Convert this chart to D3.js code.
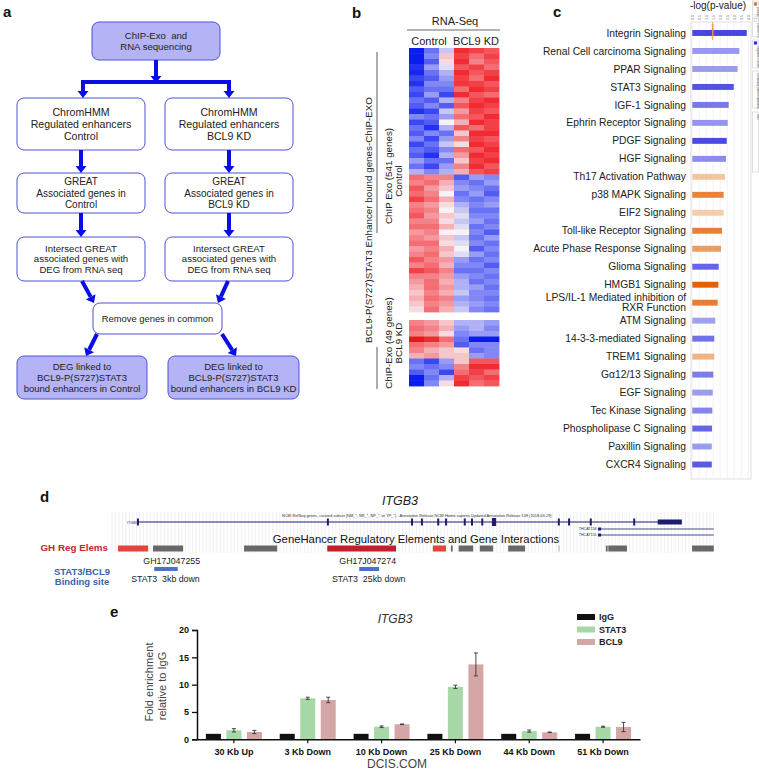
<!DOCTYPE html>
<html><head><meta charset="utf-8">
<script src="https://cdn.jsdelivr.net/npm/d3@7"></script>
<style>body{margin:0;background:#fff}svg{display:block;font-family:"Liberation Sans",Arial,sans-serif}</style>
</head><body><svg id="c" width="759" height="770"></svg>
<script>
// ================= DATA =================
// panel a – flowchart texts
const flowTop = ["ChIP-Exo  and", "RNA sequencing"];
const flowLeft = [["ChromHMM","Regulated enhancers","Control"],["GREAT","Associated genes in","Control"],["Intersect GREAT","associated genes with","DEG from RNA seq"]];
const flowRight = [["ChromHMM","Regulated enhancers","BCL9 KD"],["GREAT","Associated genes in","BCL9 KD"],["Intersect GREAT","associated genes with","DEG from RNA seq"]];
const flowMiddle = ["Remove genes in common"];
const flowBottom = [["DEG linked to","BCL9-P(S727)STAT3","bound enhancers in Control"],["DEG linked to","BCL9-P(S727)STAT3","bound enhancers in BCL9 KD"]];

// panel b – heatmap (row-scaled expression, -1 blue .. +1 red)
const heatSamples = ["Control 1","Control 2","Control 3","BCL9 KD 1","BCL9 KD 2","BCL9 KD 3"];
const heatControlRows = [
[-1.0,-0.6,-0.2,0.9,0.8,0.7],[-1.0,-0.5,0.2,0.8,0.6,0.8],[-1.0,-0.7,0.1,0.9,0.5,0.7],[-0.9,-0.4,-0.1,0.7,0.8,0.6],
[-0.95,-0.6,-0.3,0.9,0.7,0.8],[-0.8,-0.7,-0.4,0.8,0.6,0.9],[-0.9,-0.5,-0.5,0.85,0.8,0.7],[-0.7,-0.6,-0.6,0.6,0.9,0.8],
[-0.8,-0.4,-0.8,0.9,0.7,0.6],[-0.6,-0.7,-0.3,0.5,0.8,0.9],[-0.7,-0.5,-0.7,0.7,0.9,0.8],[-0.9,-0.8,-0.2,0.4,0.8,0.7],
[-0.5,-0.6,-0.4,0.6,0.7,0.9],[-0.8,-0.7,0.0,0.3,0.9,0.8],[-0.6,-0.9,-0.3,0.7,0.6,0.8],[-0.7,-0.5,-0.6,0.2,0.9,0.9],
[-0.5,-0.8,-0.4,0.5,0.8,0.7],[-0.8,-0.6,-0.2,0.1,0.9,0.8],[-0.6,-0.7,-0.5,0.6,0.7,0.9],[-0.7,-0.9,-0.3,0.4,0.9,0.8],
[-0.4,-0.6,-0.6,0.2,0.8,0.9],[-0.6,-0.8,-0.4,0.5,0.9,0.7],[-0.3,-0.5,-0.3,0.3,0.7,0.8],
[0.6,0.5,0.5,-0.7,-0.4,-0.5],[0.5,0.6,0.3,-0.5,-0.6,-0.4],[0.7,0.4,0.2,-0.4,-0.5,-0.6],[0.6,0.5,0.0,-0.6,-0.4,-0.7],
[0.8,0.6,0.3,-0.5,-0.6,-0.5],[0.5,0.4,0.1,-0.3,-0.5,-0.4],[0.6,0.5,0.0,-0.2,-0.6,-0.6],[0.7,0.4,0.2,-0.1,-0.5,-0.5],
[0.5,0.5,0.1,-0.2,-0.4,-0.6],[0.6,0.6,0.3,-0.1,-0.6,-0.5],[0.4,0.5,0.0,0.0,-0.5,-0.7],[0.5,0.4,0.2,-0.2,-0.6,-0.4],
[0.6,0.6,0.1,-0.1,-0.5,-0.6],[0.4,0.5,0.3,0.0,-0.7,-0.5],[0.5,0.6,0.2,-0.1,-0.4,-0.6],[0.7,0.5,0.4,-0.4,-0.6,-0.5],
[0.5,0.6,0.3,-0.5,-0.5,-0.7],[0.8,0.7,0.5,-0.6,-0.6,-0.5],[0.5,0.5,0.4,-0.4,-0.5,-0.6],[0.4,0.6,0.3,-0.3,-0.6,-0.5],
[0.3,0.6,0.4,-0.3,-0.4,-0.6],[0.2,0.5,0.3,-0.2,-0.5,-0.5],[0.3,0.6,0.5,-0.4,-0.5,-0.6],[0.2,0.5,0.4,-0.3,-0.4,-0.5],
[0.1,0.6,0.3,-0.2,-0.5,-0.6]];
const heatKDRows = [
[0.5,0.4,0.2,-0.3,-0.3,-0.4],[0.6,0.5,0.3,-0.4,-0.3,-0.5],[0.5,0.4,0.1,-0.5,-0.4,-0.4],[1.0,0.9,0.6,-0.6,-1.0,-1.0],
[0.6,0.5,0.4,-0.7,-0.5,-0.5],[0.5,0.3,0.2,0.1,-0.6,-0.5],[0.3,0.4,0.2,0.2,-0.4,-0.5],[-0.6,-0.8,-0.4,0.2,0.7,0.7],
[-0.5,-0.6,-0.5,0.5,0.9,0.9],[-0.7,-0.5,-0.8,0.6,0.8,0.6],[-1.0,-0.6,-0.3,0.8,0.7,0.8],[-1.0,-0.5,0.1,0.9,0.6,0.7]];

// panel c – IPA canonical pathways
const pathways = ["Integrin Signaling","Renal Cell carcinoma Signaling","PPAR Signaling","STAT3 Signaling","IGF-1 Signaling",
"Ephrin Receptor Signaling","PDGF Signaling","HGF Signaling","Th17 Activation Pathway","p38 MAPK Signaling","EIF2 Signaling",
"Toll-like Receptor Signaling","Acute Phase Response Signaling","Glioma Signaling","HMGB1 Signaling",
"LPS/IL-1 Mediated inhibition of|RXR Function","ATM Signaling","14-3-3-mediated Signaling","TREM1 Signaling",
"G\u03b112/13 Signaling","EGF Signaling","Tec Kinase Signaling","Phospholipase C Signaling","Paxillin Signaling","CXCR4 Signaling"];
const pathwayLogP = [3.89,3.36,3.24,2.96,2.60,2.53,2.46,2.41,2.34,2.24,2.24,2.12,2.05,1.89,1.86,1.81,1.64,1.57,1.57,1.50,1.46,1.43,1.41,1.39,1.39];
const pathwayZ = [-3.3,-1.2,-1.1,-3.0,-2.0,-1.3,-3.2,-1.5,0.7,2.5,0.5,2.6,1.8,-2.5,3.4,2.7,-1.0,-2.2,1.2,-1.9,-1.1,-1.7,-2.5,-1.1,-2.8];
const logPTicks = [0,0.5,1,1.5,2,2.5,3,3.5,4];
const thresholdLogP = 1.45;
const zLegend = ["positive z-score","z-score = 0","negative z-score","no activity pattern available","ratio"];

// panel d – genome browser (positions in kb from window start)
const geneExonsKb = [4.3,35.8,49.75,51.4,54.1,55.4,58.5,59.7,61.4,74.1,75.8,79.4,86.6];
const geneBigExonKb = [63.0,63.7];
const geneUtrKb = [90.5,94.5];
const geneSpanKb = [4.3,94.5];
const neighbourGeneKb = [80.6,99.8];
const neighbourGenes = ["THCAT158","THCAT155"];
const ghStartKb = [1.0,6.8,21.9,35.7,53.2,56.2,57.5,61.0,65.7,74.0,81.9,82.3,96.2];
const ghEndKb   = [6.0,11.8,27.4,47.1,55.4,56.5,59.9,63.2,68.5,74.3,82.2,85.4,99.8];
const ghType    = ["enh","other","other","strong","enh","other","other","other","other","faint","other","other","other"];
const ghNames = ["GH17J047255","GH17J047274"];
const ghNameKb = [9.9,42.4];
const bindStartKb = [7.0,41.0];
const bindEndKb = [10.9,44.3];
const bindNames = ["STAT3  3kb down","STAT3  25kb down"];

// panel e – ChIP-qPCR
const regions = ["30 Kb Up","3 Kb Down","10 Kb Down","25 Kb Down","44 Kb Down","51 Kb Down"];
const antibodies = ["IgG","STAT3","BCL9"];
const iggVals = [1,1,1,1,1,1];
const iggErr = [0,0,0,0,0,0];
const stat3Vals = [1.65,7.5,2.3,9.6,1.5,2.3];
const stat3Err = [0.3,0.2,0.15,0.3,0.2,0.1];
const bcl9Vals = [1.33,7.2,2.75,13.7,1.28,2.25];
const bcl9Err = [0.3,0.5,0.05,2.1,0.05,0.85];
const yTicksE = [0,5,10,15,20];

// ================= DRAW =================
const svg = d3.select("#c");
const panelLabel = (t,x,y)=>svg.append("text").attr("x",x).attr("y",y).attr("font-size",15).attr("font-weight","bold").attr("fill","#111").text(t);

// ---------- panel a ----------
panelLabel("a",3,17);
const fa = svg.append("g");
const flowBlue = "#0c0ce8", lav = "#b3b3f5";
function box(x,y,w,h,lines,fill,fs){
  fa.append("rect").attr("x",x).attr("y",y).attr("width",w).attr("height",h).attr("rx",7)
    .attr("fill",fill).attr("stroke","#5050d8").attr("stroke-width",1);
  const lh = fs*1.12, n = lines.length;
  lines.forEach((t,i)=>fa.append("text").attr("x",x+w/2).attr("y",y+h/2+(i-(n-1)/2)*lh+fs*0.36)
    .attr("text-anchor","middle").attr("font-size",fs).attr("fill","#222").style("white-space","pre").text(t));
}
function arrow(x1,y1,x2,y2){
  const a=Math.atan2(y2-y1,x2-x1), hl=7, hw=5.5;
  const bx=x2-hl*Math.cos(a), by=y2-hl*Math.sin(a), px=-Math.sin(a), py=Math.cos(a);
  fa.append("line").attr("x1",x1).attr("y1",y1).attr("x2",bx).attr("y2",by).attr("stroke",flowBlue).attr("stroke-width",4);
  fa.append("path").attr("d",`M${x2},${y2}L${bx+px*hw},${by+py*hw}L${bx-px*hw},${by-py*hw}Z`).attr("fill",flowBlue);
}
box(92,22,128,38,flowTop,lav,9.6);
const tierY=[98,173,237], tierH=[52,40,44], tierF=[10.6,10,9.6];
flowLeft.forEach((l,i)=>box(17,tierY[i],128,tierH[i],l,"#fff",tierF[i]));
flowRight.forEach((l,i)=>box(165,tierY[i],128,tierH[i],l,"#fff",tierF[i]));
box(93,303,129,31,flowMiddle,"#fff",9.4);
box(17,356,130,43,flowBottom[0],lav,9.5);
box(168,356,131,43,flowBottom[1],lav,9.5);
arrow(156,60,156,83);
fa.append("line").attr("x1",81).attr("x2",231).attr("y1",82).attr("y2",82).attr("stroke",flowBlue).attr("stroke-width",4);
arrow(83,80,83,98); arrow(229,80,229,98);
arrow(81,150,81,173); arrow(229,150,229,173);
arrow(81,213,81,237); arrow(229,213,229,237);
arrow(82,281,94,303); arrow(228,281,218,303);
arrow(97,334,86,356); arrow(222,334,236,356);

// ---------- panel b ----------
panelLabel("b",352,18);
const gb = svg.append("g");
gb.append("text").attr("x",455).attr("y",25).attr("text-anchor","middle").attr("font-size",11).attr("fill","#222").text("RNA-Seq");
gb.append("line").attr("x1",407).attr("x2",500).attr("y1",30).attr("y2",30).attr("stroke","#444").attr("stroke-width",0.8);
gb.append("text").attr("x",429).attr("y",45).attr("text-anchor","middle").attr("font-size",11).attr("fill","#222").text("Control");
gb.append("text").attr("x",476).attr("y",45).attr("text-anchor","middle").attr("font-size",11).attr("fill","#222").text("BCL9 KD");
const hx = d3.scaleBand().domain(heatSamples).range([409,499]);
const heatColor = d3.scaleLinear().domain([-1,0,1]).range(["#0b1cf2","#f6f2f6","#f2141c"]);
function drawHeat(rows,y0,y1){
  const ys = d3.scaleBand().domain(d3.range(rows.length)).range([y0,y1]);
  rows.forEach((r,i)=>r.forEach((v,j)=>gb.append("rect").attr("x",hx(heatSamples[j])).attr("y",ys(i))
    .attr("width",hx.bandwidth()+0.4).attr("height",ys.bandwidth()+0.4).attr("fill",heatColor(v))));
}
drawHeat(heatControlRows,48,312);
drawHeat(heatKDRows,320,386);
const rotText=(x,y,t,fs)=>gb.append("text").attr("transform",`translate(${x},${y}) rotate(-90)`).attr("text-anchor","middle")
  .attr("font-size",fs).attr("fill","#222").text(t);
rotText(372,220,"BCL9-P(S727)STAT3 Enhancer bound genes-ChIP-EXO",9.8);
rotText(392,176,"ChIP Exo (541 genes)",9.8);
rotText(402,181,"Control",9.8);
rotText(392,343,"ChIP-Exo (49 genes)",9.8);
rotText(402,343,"BCL9 KD",9.8);
gb.append("line").attr("x1",377).attr("x2",377).attr("y1",52).attr("y2",233).attr("stroke","#333").attr("stroke-width",0.8);
gb.append("line").attr("x1",377).attr("x2",377).attr("y1",347).attr("y2",389).attr("stroke","#333").attr("stroke-width",0.8);

// ---------- panel c ----------
panelLabel("c",553,17);
const gc = svg.append("g");
const cx = d3.scaleLinear().domain([0,4]).range([692.3,748.3]);
const cy = d3.scaleBand().domain(pathways).range([24,473.5]).paddingInner(0.67).paddingOuter(0.335);
const zColor = z => z<0 ? d3.scaleLinear().domain([-3.4,-1]).range(["#4242e0","#a0a0f0"]).clamp(true)(z)
                        : d3.scaleLinear().domain([0.5,3.4]).range(["#f5cda9","#e2620c"]).clamp(true)(z);
gc.append("rect").attr("x",691).attr("y",22).attr("width",60).attr("height",457).attr("fill","none").attr("stroke","#d8d8d8").attr("stroke-width",0.8);
logPTicks.forEach(t=>{
  gc.append("line").attr("x1",cx(t)).attr("x2",cx(t)).attr("y1",22).attr("y2",479).attr("stroke","#efefef").attr("stroke-width",0.7);
  gc.append("text").attr("transform",`translate(${cx(t)+1.2},20) rotate(-90)`).attr("font-size",3.6).attr("fill","#666").text(t.toFixed(1));
});
gc.append("text").attr("x",718).attr("y",9).attr("text-anchor","middle").attr("font-size",10).attr("fill","#222").text("-log(p-value)");
pathways.forEach((p,i)=>{
  gc.append("rect").attr("x",cx(0)).attr("y",cy(p)).attr("width",cx(pathwayLogP[i])-cx(0)).attr("height",cy.bandwidth()).attr("fill",zColor(pathwayZ[i]));
  const parts = p.split("|"), yc = cy(p)+cy.bandwidth()/2;
  parts.forEach((s,k)=>gc.append("text").attr("x",686).attr("y",yc+(k-(parts.length-1)/2)*9.6+3.6)
    .attr("text-anchor","end").attr("font-size",10.3).attr("fill","#222").text(s));
});
gc.append("line").attr("x1",cx(thresholdLogP)).attr("x2",cx(thresholdLogP)).attr("y1",22).attr("y2",40).attr("stroke","#f0a860").attr("stroke-width",1);
gc.append("text").attr("transform",`translate(${cx(thresholdLogP)+1.3},38) rotate(-90)`).attr("font-size",3).attr("fill","#e08030").text("Threshold");
const legY=[[1,15],[17,37],[40,68],[71,108],[112,172]], legSq=["#e8701e","#fff","#2020d8",null,null];
zLegend.forEach((t,i)=>{
  gc.append("rect").attr("x",752.5).attr("y",legY[i][0]).attr("width",6).attr("height",legY[i][1]-legY[i][0]).attr("fill","#fff").attr("stroke","#ccc").attr("stroke-width",0.6);
  if(legSq[i]) gc.append("rect").attr("x",754).attr("y",legY[i][0]+1.5).attr("width",3).attr("height",3).attr("fill",legSq[i]).attr("stroke","#888").attr("stroke-width",0.3);
  gc.append("text").attr("transform",`translate(756.8,${legY[i][0]+(legSq[i]?6:2)}) rotate(90)`).attr("font-size",3).attr("fill","#555").text(t);
});

// ---------- panel d ----------
panelLabel("d",40,502);
const gd = svg.append("g");
const gx = d3.scaleLinear().domain([0,100]).range([112,715]);
d3.range(0,100.01,0.58).forEach(k=>gd.append("line").attr("x1",gx(k)).attr("x2",gx(k)).attr("y1",512).attr("y2",553).attr("stroke","#ececec").attr("stroke-width",0.8));
gd.append("text").attr("x",400).attr("y",505).attr("text-anchor","middle").attr("font-size",12.5).attr("font-style","italic").attr("fill","#222").text("ITGB3");
gd.append("text").attr("x",282).attr("y",517).attr("font-size",3.9).attr("fill","#333")
  .text("NCBI RefSeq genes, curated subset (NM_*, NR_*, NP_*, or YP_*) - Annotation Release NCBI Homo sapiens Updated Annotation Release 109 (2018-03-29)");
const navy = "#1d1d70";
gd.append("text").attr("x",127).attr("y",523.5).attr("font-size",3.8).attr("fill",navy).text("ITGB3");
gd.append("line").attr("x1",gx(geneSpanKb[0])).attr("x2",gx(geneSpanKb[1])).attr("y1",522).attr("y2",522).attr("stroke",navy).attr("stroke-width",1);
geneExonsKb.forEach(k=>gd.append("rect").attr("x",gx(k)-1).attr("y",518.5).attr("width",2).attr("height",7).attr("fill",navy));
gd.append("rect").attr("x",gx(geneBigExonKb[0])).attr("y",518).attr("width",gx(geneBigExonKb[1])-gx(geneBigExonKb[0])).attr("height",8).attr("fill",navy);
gd.append("rect").attr("x",gx(geneUtrKb[0])).attr("y",519.5).attr("width",gx(geneUtrKb[1])-gx(geneUtrKb[0])).attr("height",5).attr("fill",navy);
neighbourGenes.forEach((n,i)=>{
  const y = 529+i*6;
  gd.append("line").attr("x1",gx(neighbourGeneKb[0])).attr("x2",gx(neighbourGeneKb[1])).attr("y1",y).attr("y2",y).attr("stroke",navy).attr("stroke-width",0.8);
  gd.append("rect").attr("x",gx(neighbourGeneKb[0])).attr("y",y-1.5).attr("width",3).attr("height",3).attr("fill",navy);
  gd.append("text").attr("x",gx(neighbourGeneKb[0])-1.5).attr("y",y+1.3).attr("text-anchor","end").attr("font-size",3.6).attr("fill",navy).text(n);
});
gd.append("text").attr("x",416).attr("y",543).attr("text-anchor","middle").attr("font-size",11.3).attr("fill","#111").text("GeneHancer Regulatory Elements and Gene Interactions");
const ghCol = {enh:"#e8423c",strong:"#c41e2c",other:"#686868",faint:"#d0d0d0"};
ghStartKb.forEach((s,i)=>gd.append("rect").attr("x",gx(s)).attr("y",545.5).attr("width",Math.max(1,gx(ghEndKb[i])-gx(s))).attr("height",6).attr("fill",ghCol[ghType[i]]));
gd.append("text").attr("x",108).attr("y",551).attr("text-anchor","end").attr("font-size",9.8).attr("font-weight","bold").attr("fill","#c3282e").text("GH Reg Elems");
ghNames.forEach((n,i)=>gd.append("text").attr("x",gx(ghNameKb[i])).attr("y",564).attr("text-anchor","middle").attr("font-size",8.8).attr("fill","#222").text(n));
bindStartKb.forEach((s,i)=>{
  gd.append("rect").attr("x",gx(s)).attr("y",567).attr("width",gx(bindEndKb[i])-gx(s)).attr("height",4).attr("fill","#4a72c2");
  gd.append("text").attr("x",(gx(s)+gx(bindEndKb[i]))/2-0.5).attr("y",582).attr("text-anchor","middle").attr("font-size",8.8).attr("fill","#222").style("white-space","pre").text(bindNames[i]);
});
gd.append("text").attr("x",82).attr("y",575).attr("text-anchor","middle").attr("font-size",9.5).attr("font-weight","bold").attr("fill","#3b62ad").text("STAT3/BCL9");
gd.append("text").attr("x",82).attr("y",585).attr("text-anchor","middle").attr("font-size",9.5).attr("font-weight","bold").attr("fill","#3b62ad").text("Binding site");

// ---------- panel e ----------
panelLabel("e",110,617);
const ge = svg.append("g");
const ex = d3.scaleBand().domain(regions).range([197,640]);
const ein = d3.scaleBand().domain(antibodies).range([8.9,64.9]).paddingInner(0.268);
const ey = d3.scaleLinear().domain([0,20]).range([739.3,630]);
const eCol = {IgG:"#111111",STAT3:"#a9d8a8",BCL9:"#d4a6a6"};
const vals = {IgG:iggVals,STAT3:stat3Vals,BCL9:bcl9Vals}, errs = {IgG:iggErr,STAT3:stat3Err,BCL9:bcl9Err};
ge.append("text").attr("x",395).attr("y",623).attr("text-anchor","middle").attr("font-size",12).attr("font-style","italic").attr("fill","#333").text("ITGB3");
regions.forEach((r,i)=>antibodies.forEach(a=>{
  const x = ex(r)+ein(a), v = vals[a][i], e = errs[a][i];
  ge.append("rect").attr("x",x).attr("y",ey(v)).attr("width",ein.bandwidth()).attr("height",ey(0)-ey(v)).attr("fill",eCol[a]);
  if(e>0){
    const xc = x+ein.bandwidth()/2;
    ge.append("line").attr("x1",xc).attr("x2",xc).attr("y1",ey(v+e)).attr("y2",ey(v-e)).attr("stroke","#333").attr("stroke-width",0.9);
    [v+e,v-e].forEach(q=>ge.append("line").attr("x1",xc-2).attr("x2",xc+2).attr("y1",ey(q)).attr("y2",ey(q)).attr("stroke","#333").attr("stroke-width",0.9));
  }
}));
const yAx = ge.append("g").attr("transform","translate(197,0)").call(d3.axisLeft(ey).tickValues(yTicksE).tickSize(5).tickPadding(3));
yAx.select(".domain").attr("stroke","#111").attr("stroke-width",1.5);
yAx.selectAll(".tick line").attr("stroke","#111").attr("stroke-width",1.3);
yAx.selectAll("text").attr("font-size",9).attr("font-weight","bold").attr("font-family","'Liberation Sans',Arial,sans-serif").attr("fill","#111");
const xAx = ge.append("g").attr("transform","translate(0,739.3)").call(d3.axisBottom(ex).tickSize(4).tickSizeOuter(0).tickPadding(5));
xAx.select(".domain").attr("stroke","#111").attr("stroke-width",1.5);
xAx.selectAll(".tick line").attr("stroke","#111").attr("stroke-width",1.2);
xAx.selectAll("text").attr("font-size",9).attr("font-weight","bold").attr("font-family","'Liberation Sans',Arial,sans-serif").attr("fill","#111");
ge.append("text").attr("transform","translate(153,682) rotate(-90)").attr("text-anchor","middle").attr("font-size",11).attr("fill","#444").text("Fold enrichment");
ge.append("text").attr("transform","translate(166,686) rotate(-90)").attr("text-anchor","middle").attr("font-size",11).attr("fill","#444").text("relative to IgG");
antibodies.forEach((a,i)=>{
  ge.append("rect").attr("x",577).attr("y",614+i*12.5).attr("width",18).attr("height",6).attr("fill",eCol[a]);
  ge.append("text").attr("x",599).attr("y",620+i*12.5).attr("font-size",9).attr("font-weight","bold").attr("fill","#222").text(a);
});
ge.append("text").attr("x",397).attr("y",768).attr("text-anchor","middle").attr("font-size",12).attr("fill","#444").text("DCIS.COM");
</script></body></html>
